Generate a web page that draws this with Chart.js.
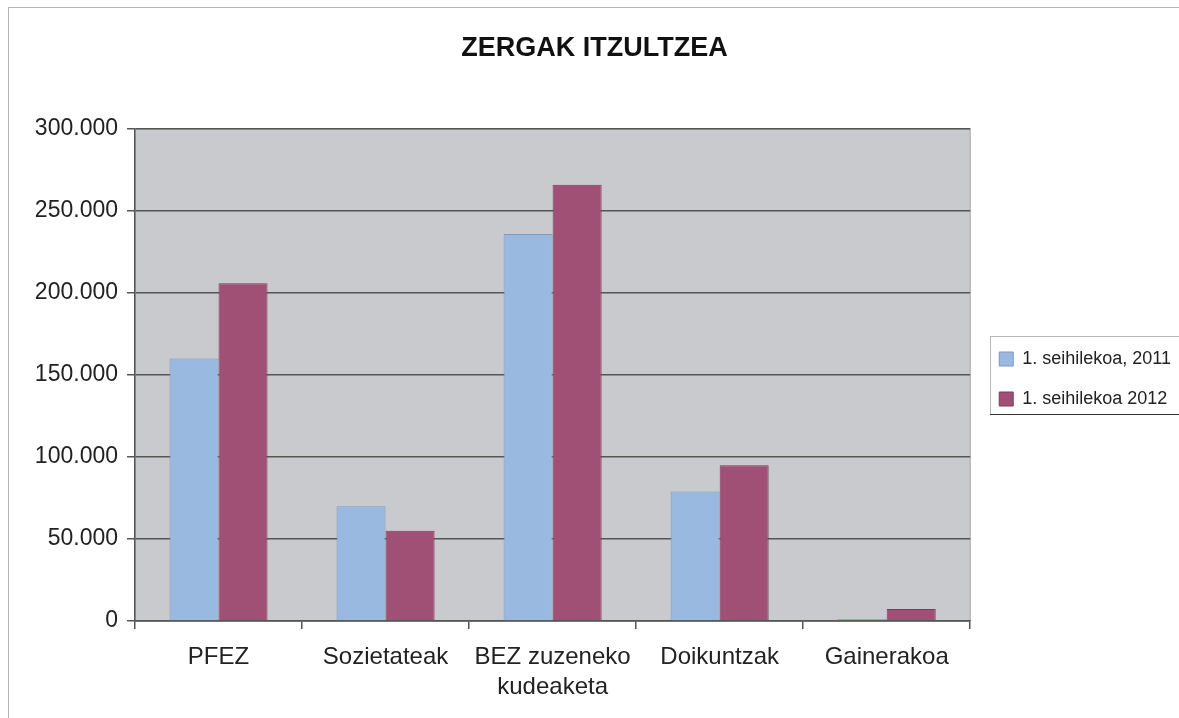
<!DOCTYPE html>
<html>
<head>
<meta charset="utf-8">
<script src="https://cdn.jsdelivr.net/npm/chart.js@4"></script>
<style>
  html, body { margin: 0; padding: 0; background: #fff; }
  #wrap { width: 1179px; height: 718px; }
</style>
</head>
<body>
<div id="wrap"><canvas id="myChart" width="1179" height="718"></canvas></div>
<script>
var categories = ['PFEZ', 'Sozietateak', ['BEZ zuzeneko', 'kudeaketa'], 'Doikuntzak', 'Gainerakoa'];
var labels2011 = '1. seihilekoa, 2011';
var labels2012 = '1. seihilekoa 2012';
var values2011 = [160000, 70000, 236000, 79000, 1200];
var values2012 = [206000, 55000, 266000, 95000, 7300];
var yTicks = [0, 50000, 100000, 150000, 200000, 250000, 300000];

function fmt(v) {
  if (v === 0) return '0';
  return String(v).replace(/\B(?=(\d{3})+(?!\d))/g, '.');
}

var bgPlugin = {
  id: 'bg',
  afterLayout: function (chart) {
    // nudge legend items to match the original box
    var l = chart.legend;
    l.top += 10;
    l.bottom += 10;
    l.left += 7;
    l.right += 7;
  },
  beforeDraw: function (chart) {
    var c = chart.ctx, a = chart.chartArea;
    c.save();
    c.fillStyle = '#ffffff';
    c.fillRect(0, 0, chart.width, chart.height);
    c.strokeStyle = '#b4b4b4';
    c.lineWidth = 1;
    c.strokeRect(8.5, 7.5, chart.width + 10, chart.height + 10);
    c.fillStyle = '#c9cacd';
    c.fillRect(a.left, a.top, a.right - a.left, a.bottom - a.top);
    c.strokeStyle = '#a8a8a8';
    c.strokeRect(a.left, a.top, a.right - a.left, a.bottom - a.top);
    c.restore();
  },
  afterDraw: function (chart) {
    var c = chart.ctx;
    c.save();
    c.strokeStyle = '#b8b8b8';
    c.lineWidth = 1;
    c.strokeRect(990.5, 336.5, 220, 78);
    c.strokeStyle = '#333333';
    c.beginPath();
    c.moveTo(990, 414.5);
    c.lineTo(1179, 414.5);
    c.stroke();
    c.restore();
  }
};

var ctx = document.getElementById('myChart').getContext('2d');
var myChart = new Chart(ctx, {
  type: 'bar',
  data: {
    labels: categories,
    datasets: [{
      label: labels2011,
      data: values2011,
      backgroundColor: '#9ab9e1',
      borderColor: '#7f98bd',
      borderWidth: 1
    },
    {
      label: labels2012,
      data: values2012,
      backgroundColor: '#a05075',
      borderColor: '#7c3d5a',
      borderWidth: 1
    }]
  },
  options: {
    responsive: false,
    animation: false,
    layout: { padding: { top: 20, left: 15, right: 5, bottom: 0 } },
    datasets: {
      bar: { categoryPercentage: 0.587, barPercentage: 1 }
    },
    scales: {
      x: {
        offset: true,
        grid: {
          offset: true,
          drawOnChartArea: false,
          drawTicks: true,
          tickLength: 8,
          color: '#555555',
          lineWidth: 1.5
        },
        border: { color: '#555555', width: 1.5 },
        ticks: {
          color: '#222222',
          font: { family: 'Liberation Sans', size: 24, lineHeight: 1.25 },
          padding: 13,
          maxRotation: 0,
          autoSkip: false
        },
        afterFit: function (s) { s.height = 97; }
      },
      y: {
        min: 0,
        max: 300000,
        afterBuildTicks: function (s) {
          s.ticks = yTicks.map(function (v) { return { value: v }; });
        },
        grid: {
          color: '#555555',
          lineWidth: 1.5,
          tickLength: 8
        },
        border: { color: '#555555', width: 1.5 },
        ticks: {
          color: '#222222',
          font: { family: 'Liberation Sans', size: 23 },
          padding: 9,
          callback: function (v) { return fmt(v); }
        },
        afterFit: function (s) { s.width = 120; }
      }
    },
    plugins: {
      title: {
        display: true,
        text: 'ZERGAK ITZULTZEA',
        color: '#111111',
        font: { family: 'Liberation Sans', size: 27, weight: 'bold' },
        padding: { top: 12, bottom: 64.6 }
      },
      legend: {
        display: true,
        position: 'right',
        labels: {
          color: '#222222',
          font: { family: 'Liberation Sans', size: 18 },
          boxWidth: 14,
          boxHeight: 14,
          padding: 22
        }
      },
      tooltip: { enabled: false }
    }
  },
  plugins: [bgPlugin]
});
</script>
</body>
</html>
